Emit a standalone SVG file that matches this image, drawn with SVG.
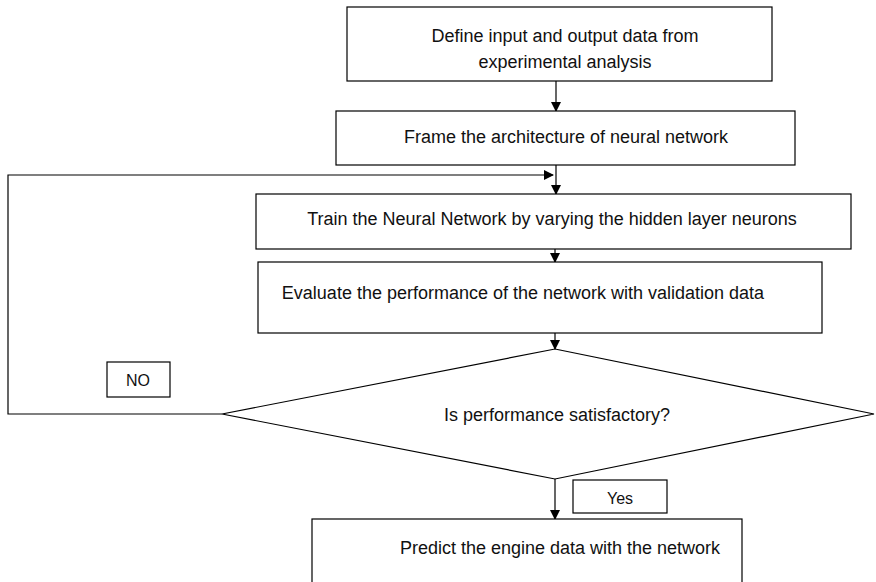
<svg xmlns="http://www.w3.org/2000/svg" width="876" height="582" viewBox="0 0 876 582">
<defs>
<marker id="ah" markerWidth="10" markerHeight="10" refX="9" refY="5" orient="auto" markerUnits="userSpaceOnUse">
<path d="M0,0 L10,5 L0,10 Z" fill="#000"/>
</marker>
<style>
.box{fill:#fff;stroke:#000;stroke-width:1.2}
.t{font-family:"Liberation Sans",Arial,sans-serif;font-size:18px;fill:#111;text-anchor:middle}
.s{font-size:16px}
.c{fill:none;stroke:#000;stroke-width:1.2}
</style>
</defs>
<rect width="876" height="582" fill="#fff"/>
<g id="connectors">
<line class="c" x1="556" y1="81" x2="556" y2="111" marker-end="url(#ah)"/>
<line class="c" x1="556" y1="165" x2="556" y2="194" marker-end="url(#ah)"/>
<polyline class="c" points="222,414 8,414 8,175 553,175" marker-end="url(#ah)"/>
<line class="c" x1="555" y1="249" x2="555" y2="262" marker-end="url(#ah)"/>
<line class="c" x1="555" y1="333" x2="555" y2="349" marker-end="url(#ah)"/>
<line class="c" x1="555" y1="479" x2="555" y2="519" marker-end="url(#ah)"/>
</g>
<g id="n1"><rect class="box" x="347" y="7" width="425" height="74"/>
<text class="t" x="565" y="42">Define input and output data from</text>
<text class="t" x="565" y="68">experimental analysis</text></g>
<g id="n2"><rect class="box" x="336" y="111" width="459" height="54"/>
<text class="t" x="566" y="143">Frame the architecture of neural network</text></g>
<g id="n3"><rect class="box" x="256" y="194" width="595" height="55"/>
<text class="t" x="552" y="225">Train the Neural Network by varying the hidden layer neurons</text></g>
<g id="n4"><rect class="box" x="258" y="262" width="564" height="71"/>
<text class="t" x="523" y="299">Evaluate the performance of the network with validation data</text></g>
<g id="n5"><polygon class="box" points="555,349 874,414 555,479 222,414"/>
<text class="t" x="557" y="421">Is performance satisfactory?</text></g>
<g id="n6"><rect class="box" x="312" y="519" width="430" height="70"/>
<text class="t" x="560" y="554">Predict the engine data with the network</text></g>
<g id="lno"><rect class="box" x="107" y="362" width="63" height="35"/>
<text class="t s" x="138" y="386">NO</text></g>
<g id="lyes"><rect class="box" x="573" y="480" width="94" height="33"/>
<text class="t s" x="620" y="504">Yes</text></g>
</svg>
